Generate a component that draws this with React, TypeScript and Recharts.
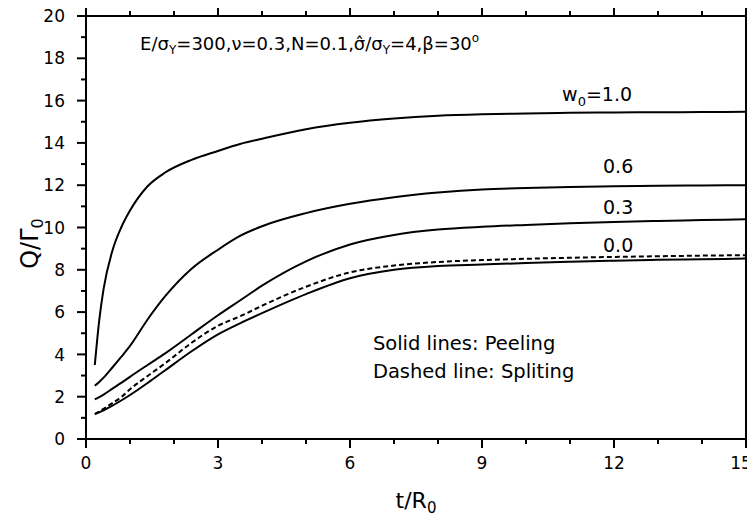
import { LineChart, Line, XAxis, YAxis, ReferenceDot } from "recharts";

// dimensionless time t/R0
const tValues = [0.2, 0.3, 0.4, 0.6, 0.8, 1.0, 1.4, 1.8, 2.4, 3, 3.5, 4, 5, 6, 7, 8, 9, 10, 11, 12, 13, 14, 15];

// Q/Γ0 for peeling, one array per w0
const peelW10 = [3.5, 5.6, 7.1, 8.9, 10.0, 10.8, 11.95, 12.6, 13.2, 13.62, 13.95, 14.2, 14.65, 14.95, 15.15, 15.28, 15.35, 15.39, 15.42, 15.44, 15.45, 15.46, 15.47];
const peelW06 = [2.52, 2.7, 2.9, 3.38, 3.88, 4.4, 5.65, 6.75, 8.05, 8.95, 9.6, 10.06, 10.68, 11.12, 11.43, 11.65, 11.8, 11.87, 11.92, 11.95, 11.97, 11.99, 12.0];
const peelW03 = [1.87, 1.98, 2.1, 2.38, 2.65, 2.94, 3.5, 4.05, 4.95, 5.85, 6.55, 7.25, 8.4, 9.2, 9.65, 9.9, 10.03, 10.12, 10.2, 10.26, 10.31, 10.35, 10.39];
const peelW00 = [1.18, 1.26, 1.36, 1.58, 1.82, 2.08, 2.65, 3.25, 4.15, 4.95, 5.47, 5.95, 6.85, 7.6, 8.0, 8.18, 8.25, 8.32, 8.38, 8.43, 8.47, 8.5, 8.53];
// splitting, w0 = 0.0
const splitW00 = [1.18, 1.3, 1.43, 1.7, 1.98, 2.35, 2.98, 3.58, 4.55, 5.35, 5.8, 6.3, 7.2, 7.88, 8.2, 8.37, 8.46, 8.52, 8.57, 8.61, 8.64, 8.67, 8.69];

const xTicks = [0, 1, 2, 3, 4, 5, 6, 7, 8, 9, 10, 11, 12, 13, 14, 15];
const yTicks = [0, 1, 2, 3, 4, 5, 6, 7, 8, 9, 10, 11, 12, 13, 14, 15, 16, 17, 18, 19, 20];
const xLabelStep = 3;
const yLabelStep = 2;

// curve labels
const curveNames = ["1.0", "0.6", "0.3", "0.0"];
const curveNameT = [10.82, 11.75, 11.75, 11.75];
const curveNameQ = [16.0, 12.56, 10.66, 8.85];

const data = tValues.map((t, i) => ({
  t,
  w10: peelW10[i],
  w06: peelW06[i],
  w03: peelW03[i],
  w00: peelW00[i],
  s00: splitW00[i],
}));

const FONT = "DejaVu Sans";
const INK = "#000";
const MAJOR = 9;
const MINOR = 5;

function BottomTick({ x, y, payload }: any) {
  const major = payload.value % xLabelStep === 0;
  // last label sits against the page edge, nudge it in
  const last = payload.value === xTicks[xTicks.length - 1];
  return (
    <g>
      <line x1={x} x2={x} y1={y} y2={y + (major ? MAJOR : MINOR)} stroke={INK} strokeWidth={2} />
      {major && (
        <text x={last ? x - 5 : x} y={y + 30} textAnchor="middle" fontSize={17} fontFamily={FONT} fill={INK}>
          {payload.value}
        </text>
      )}
    </g>
  );
}

function TopTick({ x, y, payload }: any) {
  const major = payload.value % xLabelStep === 0;
  return <line x1={x} x2={x} y1={y} y2={y - (major ? MAJOR : MINOR)} stroke={INK} strokeWidth={2} />;
}

function LeftTick({ x, y, payload }: any) {
  const major = payload.value % yLabelStep === 0;
  return (
    <g>
      <line x1={x} x2={x - (major ? MAJOR : MINOR)} y1={y} y2={y} stroke={INK} strokeWidth={2} />
      {major && (
        <text x={x - 21} y={y} dy="0.36em" textAnchor="end" fontSize={17} fontFamily={FONT} fill={INK}>
          {payload.value}
        </text>
      )}
    </g>
  );
}

function RightTick({ x, y, payload }: any) {
  const major = payload.value % yLabelStep === 0;
  return <line x1={x} x2={x + (major ? MAJOR : MINOR)} y1={y} y2={y} stroke={INK} strokeWidth={2} />;
}

const axisLine = { stroke: INK, strokeWidth: 2 };

function Note({ viewBox, size, children }: any) {
  return (
    <text x={viewBox.x} y={viewBox.y} fontSize={size} fontFamily={FONT} fill={INK}>
      {children}
    </text>
  );
}

export default function App() {
  return (
    <div style={{ background: "#fff", width: 747, height: 507 }}>
      <style>{"html, body { overflow: hidden; } svg { overflow: visible; }"}</style>
      <LineChart width={747} height={507} data={data} margin={{ top: 0, right: 0, bottom: 0, left: 0 }}>
        <XAxis
          xAxisId={0}
          dataKey="t"
          type="number"
          domain={[0, 15]}
          ticks={xTicks}
          interval={0}
          height={76}
          tickSize={0}
          tickMargin={0}
          tickLine={false}
          axisLine={axisLine}
          tick={<BottomTick />}
          label={{
            content: ({ viewBox }: any) => (
              <text
                x={viewBox.x + viewBox.width / 2}
                y={viewBox.y + 69}
                textAnchor="middle"
                fontSize={22}
                fontFamily={FONT}
                fill={INK}
              >
                t/R<tspan dy={5} fontSize={15}>0</tspan>
              </text>
            ),
          }}
        />
        <XAxis
          xAxisId="top"
          orientation="top"
          dataKey="t"
          type="number"
          domain={[0, 15]}
          ticks={xTicks}
          interval={0}
          height={8}
          tickSize={0}
          tickMargin={0}
          tickLine={false}
          axisLine={axisLine}
          tick={<TopTick />}
        />
        <YAxis
          yAxisId={0}
          type="number"
          domain={[0, 20]}
          ticks={yTicks}
          interval={0}
          width={78}
          tickSize={0}
          tickMargin={0}
          tickLine={false}
          axisLine={axisLine}
          tick={<LeftTick />}
          label={{
            content: ({ viewBox }: any) => {
              const cx = viewBox.x + 30;
              const cy = viewBox.y + viewBox.height / 2 + 16;
              return (
                <text
                  x={cx}
                  y={cy}
                  transform={`rotate(-90 ${cx} ${cy})`}
                  textAnchor="middle"
                  fontSize={24}
                  fontFamily={FONT}
                  fill={INK}
                >
                  Q/Γ<tspan dy={5} fontSize={16}>0</tspan>
                </text>
              );
            },
          }}
        />
        <YAxis
          yAxisId="right"
          orientation="right"
          type="number"
          domain={[0, 20]}
          ticks={yTicks}
          interval={0}
          width={9}
          tickSize={0}
          tickMargin={0}
          tickLine={false}
          axisLine={axisLine}
          tick={<RightTick />}
        />

        <Line dataKey="w10" type="monotone" stroke={INK} strokeWidth={2} dot={false} isAnimationActive={false} />
        <Line dataKey="w06" type="monotone" stroke={INK} strokeWidth={2} dot={false} isAnimationActive={false} />
        <Line dataKey="w03" type="monotone" stroke={INK} strokeWidth={2} dot={false} isAnimationActive={false} />
        <Line dataKey="w00" type="monotone" stroke={INK} strokeWidth={2} dot={false} isAnimationActive={false} />
        <Line
          dataKey="s00"
          type="monotone"
          stroke={INK}
          strokeWidth={2}
          strokeDasharray="5 3"
          dot={false}
          isAnimationActive={false}
        />

        {/* material parameters */}
        <ReferenceDot
          x={1.23}
          y={18.38}
          r={0}
          ifOverflow="visible"
          label={{
            content: ({ viewBox }: any) => (
              <Note viewBox={viewBox} size={18}>
                E/σ<tspan dy={4} fontSize={12}>Y</tspan>
                <tspan dy={-4}>=300,ν=0.3,N=0.1,σ̂/σ</tspan>
                <tspan dy={4} fontSize={12}>Y</tspan>
                <tspan dy={-4}>=4,β=30</tspan>
                <tspan dy={-8} fontSize={12}>o</tspan>
              </Note>
            ),
          }}
        />

        {curveNames.map((name, i) => (
          <ReferenceDot
            key={name}
            x={curveNameT[i]}
            y={curveNameQ[i]}
            r={0}
            ifOverflow="visible"
            label={{
              content: ({ viewBox }: any) =>
                i === 0 ? (
                  <Note viewBox={viewBox} size={19}>
                    w<tspan dy={5} fontSize={13}>0</tspan>
                    <tspan dy={-5}>={name}</tspan>
                  </Note>
                ) : (
                  <Note viewBox={viewBox} size={19}>
                    {name}
                  </Note>
                ),
            }}
          />
        ))}

        <ReferenceDot
          x={6.52}
          y={4.23}
          r={0}
          ifOverflow="visible"
          label={{
            content: ({ viewBox }: any) => (
              <Note viewBox={viewBox} size={19.5}>
                Solid lines: Peeling
              </Note>
            ),
          }}
        />
        <ReferenceDot
          x={6.52}
          y={2.9}
          r={0}
          ifOverflow="visible"
          label={{
            content: ({ viewBox }: any) => (
              <Note viewBox={viewBox} size={19.5}>
                Dashed line: Spliting
              </Note>
            ),
          }}
        />
      </LineChart>
    </div>
  );
}
